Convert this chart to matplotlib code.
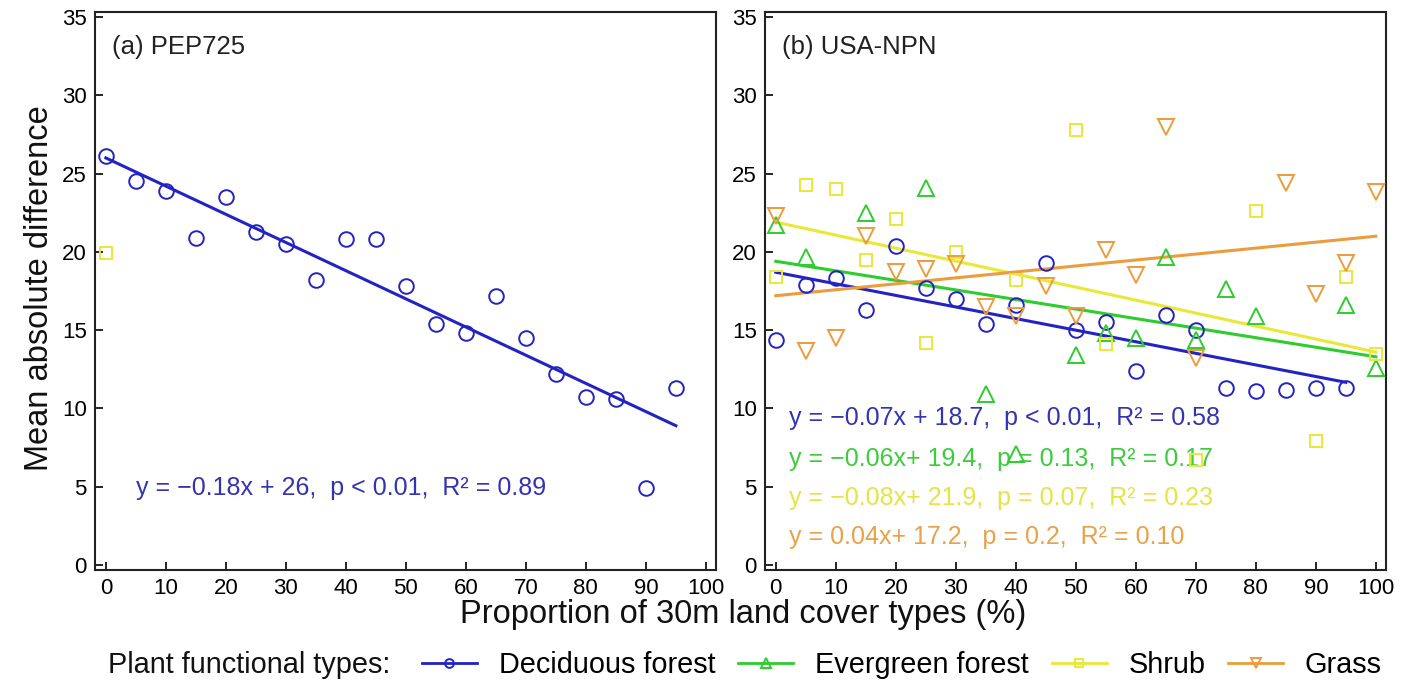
import numpy as np
import matplotlib
matplotlib.use("Agg")
import matplotlib.pyplot as plt
from matplotlib.lines import Line2D

plt.rcParams['font.family'] = ['Liberation Sans', 'DejaVu Sans']

# ---- data ----
# (a) PEP725, deciduous forest only
pep_x = [0, 5, 10, 15, 20, 25, 30, 35, 40, 45, 50, 55, 60, 65, 70, 75, 80, 85, 90, 95]
pep_dec = [26.1, 24.5, 23.9, 20.9, 23.5, 21.3, 20.5, 18.2, 20.8, 20.8,
           17.8, 15.4, 14.8, 17.2, 14.5, 12.2, 10.7, 10.6, 4.9, 11.3]
pep_shrub_x = [0]
pep_shrub = [19.9]
pep_fit = (-0.18, 26.0, 95)   # slope, intercept, x end

# (b) USA-NPN
npn_dec_x = [0, 5, 10, 15, 20, 25, 30, 35, 40, 45, 50, 55, 60, 65, 70, 75, 80, 85, 90, 95]
npn_dec = [14.4, 17.9, 18.3, 16.3, 20.4, 17.7, 17.0, 15.4, 16.6, 19.3,
           15.0, 15.5, 12.4, 16.0, 15.0, 11.3, 11.1, 11.2, 11.3, 11.3]
npn_eve_x = [0, 5, 15, 25, 35, 40, 50, 55, 60, 65, 70, 75, 80, 95, 100]
npn_eve = [21.7, 19.7, 22.5, 24.1, 10.9, 7.1, 13.4, 14.8, 14.5, 19.7,
           14.4, 17.6, 15.9, 16.6, 12.6]
npn_shr_x = [0, 5, 10, 15, 20, 25, 30, 40, 50, 55, 70, 80, 90, 95, 100]
npn_shr = [18.4, 24.3, 24.0, 19.5, 22.1, 14.2, 20.0, 18.2, 27.8, 14.1,
           6.7, 22.6, 7.9, 18.4, 13.5]
npn_gra_x = [0, 5, 10, 15, 20, 25, 30, 35, 40, 45, 50, 55, 60, 65, 70, 85, 90, 95, 100]
npn_gra = [22.3, 13.7, 14.5, 21.0, 18.7, 18.9, 19.2, 16.5, 15.9, 17.8,
           15.9, 20.1, 18.5, 28.0, 13.2, 24.4, 17.3, 19.3, 23.8]

# regression lines (slope, intercept, x end) as drawn
npn_fits = [(-0.074, 18.7, 95), (-0.061, 19.4, 100),
            (-0.083, 21.9, 100), (0.038, 17.2, 100)]
npn_eqs = ["y = \u22120.07x + 18.7,  p < 0.01,  R\u00b2 = 0.58",
           "y = \u22120.06x+ 19.4,  p = 0.13,  R\u00b2 = 0.17",
           "y = \u22120.08x+ 21.9,  p = 0.07,  R\u00b2 = 0.23",
           "y = 0.04x+ 17.2,  p = 0.2,  R\u00b2 = 0.10"]
pep_eq = "y = \u22120.18x + 26,  p < 0.01,  R\u00b2 = 0.89"

names = ["Deciduous forest", "Evergreen forest", "Shrub", "Grass"]
colors = ["#2323c4", "#2fcc2f", "#e8e838", "#eb9c3c"]
txt_colors = ["#3434b0", "#3ccc3c", "#e4e444", "#e8a24a"]
markers = ["o", "^", "s", "v"]
msizes = [10.5, 11.5, 8.5, 11.5]

fig = plt.figure(figsize=(14.06, 6.88), dpi=100)
ax1 = fig.add_axes([0.0676, 0.1719, 0.4417, 0.8102])
ax2 = fig.add_axes([0.5441, 0.1719, 0.4417, 0.8102])


def style_axis(ax):
    ax.set_xlim(-1.8, 101.7)
    ax.set_ylim(-0.3, 35.3)
    ax.set_xticks(np.arange(0, 101, 10))
    ax.set_yticks(np.arange(0, 36, 5))
    ax.tick_params(direction='in', length=6, width=1.2, labelsize=16,
                   pad=6, top=False, right=False)
    for sp in ax.spines.values():
        sp.set_linewidth(1.5)
        sp.set_color('#222222')


def scatter(ax, x, y, i):
    ax.plot(x, y, linestyle='none', marker=markers[i], ms=msizes[i],
            mfc='none', mec=colors[i], mew=1.4, zorder=3)


def fit_line(ax, fit, i):
    k, b, xe = fit
    xs = np.array([0, xe])
    ax.plot(xs, k * xs + b, color=colors[i], lw=2.2, zorder=2)


# (a)
style_axis(ax1)
scatter(ax1, pep_x, pep_dec, 0)
scatter(ax1, pep_shrub_x, pep_shrub, 2)
fit_line(ax1, pep_fit, 0)
ax1.text(1.0, 33.1, "(a) PEP725", fontsize=18.5, va='center', color='#222222')
ax1.text(5.0, 4.9, pep_eq, fontsize=18, va='center', color=txt_colors[0])

# (b)
style_axis(ax2)
series = [(npn_dec_x, npn_dec), (npn_eve_x, npn_eve),
          (npn_shr_x, npn_shr), (npn_gra_x, npn_gra)]
for i, (x, y) in enumerate(series):
    scatter(ax2, x, y, i)
    fit_line(ax2, npn_fits[i], i)
ax2.text(1.0, 33.1, "(b) USA-NPN", fontsize=18.5, va='center', color='#222222')
eq_y = [9.4, 6.8, 4.3, 1.8]
for i, s in enumerate(npn_eqs):
    ax2.text(2.2, eq_y[i], s, fontsize=18, va='center', color=txt_colors[i], zorder=1)

# shared labels
fig.text(40 / 1406, 0.581, "Mean absolute difference", rotation=90,
         fontsize=23.5, ha='center', va='center', color='#111111')
fig.text(743 / 1406, 1 - 615 / 688, "Proportion of 30m land cover types (%)",
         fontsize=23.5, ha='center', va='center', color='#111111')

# legend
fig.text(108 / 1406, 1 - 665 / 688, "Plant functional types:", fontsize=20.8,
         ha='left', va='center', color='#111111')
handles = [Line2D([], [], color=colors[i], lw=2, marker=markers[i], ms=msizes[i],
                  mfc='none', mec=colors[i], mew=1.4) for i in range(4)]
fig.legend(handles, names, loc='center left', ncol=4, frameon=False,
           bbox_to_anchor=(422 / 1406, 1 - 665 / 688), fontsize=20.8,
           handlelength=1.9, handletextpad=0.75, columnspacing=0.8,
           borderpad=0, borderaxespad=0, markerscale=0.6)

plt.savefig("out.png", dpi=100)
